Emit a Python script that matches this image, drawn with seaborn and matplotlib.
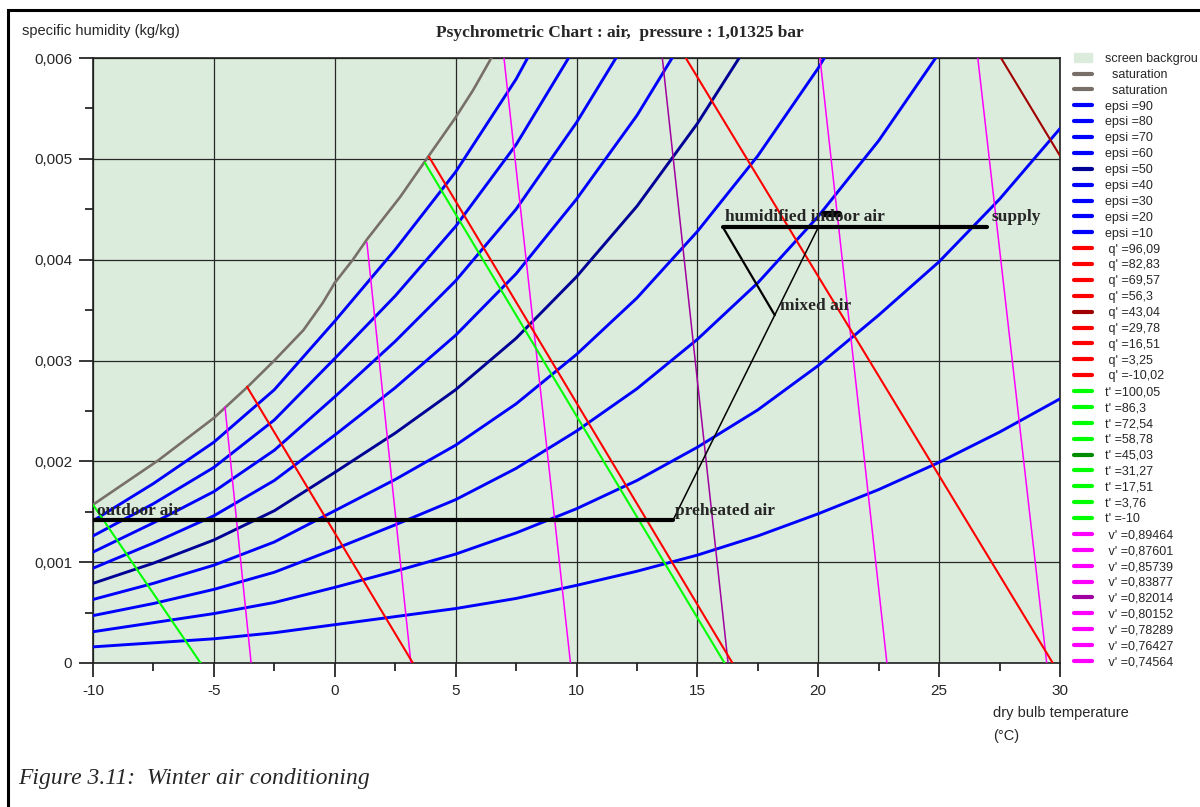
import pandas as pd
import matplotlib
matplotlib.use("Agg")
import matplotlib.pyplot as plt
from matplotlib.lines import Line2D
from matplotlib.patches import Patch, Rectangle
import seaborn as sns

# ---- values: dry bulb T (degC), specific humidity w (kg/kg) ----
SAT_ICE_T = [-10.0, -7.3, -5.0, -3.6, -2.5, -1.3, -0.5, 0.0]
SAT_ICE_W = [0.00157, 0.00201, 0.00243, 0.00274, 0.00300, 0.00330, 0.00357, 0.00377]
SAT_WATER_T = [0.0, 0.75, 1.33, 2.7, 3.86, 4.97, 5.72, 6.5]
SAT_WATER_W = [0.00377, 0.00400, 0.00420, 0.00462, 0.00502, 0.00540, 0.00568, 0.00601]

T_GRID = [-10, -7.5, -5, -2.5, 0, 2.5, 5, 7.5, 10, 12.5, 15, 17.5, 20, 22.5, 25, 27.5, 30]
epsi_90 = [0.00141, 0.00178, 0.00219, 0.00271, 0.00339, 0.00410, 0.00487, 0.00579, 0.00689]
epsi_80 = [0.00126, 0.00158, 0.00194, 0.00241, 0.00302, 0.00364, 0.00433, 0.00514, 0.00613]
epsi_70 = [0.00110, 0.00139, 0.00170, 0.00211, 0.00264, 0.00319, 0.00379, 0.00450, 0.00536, 0.00634]
epsi_60 = [0.00094, 0.00119, 0.00146, 0.00181, 0.00226, 0.00273, 0.00325, 0.00386, 0.00460, 0.00543,
           0.00641]
epsi_50 = [0.00079, 0.00099, 0.00122, 0.00151, 0.00189, 0.00228, 0.00271, 0.00322, 0.00383, 0.00453,
           0.00535, 0.00629]
epsi_40 = [0.00063, 0.00079, 0.00097, 0.00120, 0.00151, 0.00182, 0.00216, 0.00257, 0.00306, 0.00362,
           0.00428, 0.00503, 0.00590, 0.00691]
epsi_30 = [0.00047, 0.00059, 0.00073, 0.00090, 0.00113, 0.00137, 0.00162, 0.00193, 0.00230, 0.00272,
           0.00321, 0.00377, 0.00443, 0.00518, 0.00605]
epsi_20 = [0.00031, 0.00040, 0.00049, 0.00060, 0.00075, 0.00091, 0.00108, 0.00129, 0.00153, 0.00181,
           0.00214, 0.00251, 0.00295, 0.00345, 0.00398, 0.00460, 0.00530]
epsi_10 = [0.00016, 0.00020, 0.00024, 0.00030, 0.00038, 0.00046, 0.00054, 0.00064, 0.00077, 0.00091,
           0.00107, 0.00126, 0.00148, 0.00172, 0.00199, 0.00229, 0.00262]
EPSI_LABELS = ["epsi =90", "epsi =80", "epsi =70", "epsi =60", "epsi =50",
               "epsi =40", "epsi =30", "epsi =20", "epsi =10"]
EPSI_VALUES = [epsi_90, epsi_80, epsi_70, epsi_60, epsi_50, epsi_40, epsi_30, epsi_20, epsi_10]

Q_LABELS = [" q' =96,09", " q' =82,83", " q' =69,57", " q' =56,3", " q' =43,04",
            " q' =29,78", " q' =16,51", " q' =3,25", " q' =-10,02"]
Q_VISIBLE = [" q' =43,04", " q' =29,78", " q' =16,51", " q' =3,25"]
Q_T_ENDS = [[27.56, 30.0], [14.52, 29.7], [3.9, 16.45], [-3.63, 3.23]]
Q_W_ENDS = [[0.006, 0.00503], [0.006, 0.0], [0.00502, 0.0], [0.00274, 0.0]]

T_LABELS = ["t' =100,05", "t' =86,3", "t' =72,54", "t' =58,78", "t' =45,03",
            "t' =31,27", "t' =17,51", "t' =3,76", "t' =-10"]
T_VISIBLE = ["t' =3,76", "t' =-10"]
T_T_ENDS = [[3.73, 16.12], [-10.0, -5.55]]
T_W_ENDS = [[0.00496, 0.0], [0.00157, 0.0]]

V_LABELS = [" v' =0,89464", " v' =0,87601", " v' =0,85739", " v' =0,83877", " v' =0,82014",
            " v' =0,80152", " v' =0,78289", " v' =0,76427", " v' =0,74564"]
V_VISIBLE = [" v' =0,85739", " v' =0,83877", " v' =0,82014", " v' =0,80152", " v' =0,78289",
             " v' =0,76427"]
V_T_ENDS = [[26.6, 29.45], [20.07, 22.84], [13.55, 16.27], [7.0, 9.75], [1.33, 3.15], [-4.54, -3.46]]
V_W_ENDS = [[0.006, 0.0], [0.006, 0.0], [0.006, 0.0], [0.006, 0.0], [0.00417, 0.0], [0.00254, 0.0]]

# winter air conditioning process
HEAT_T = [-10.0, 14.0]
HEAT_W = [0.00142, 0.00142]
MIX_T = [14.0, 20.0]
MIX_W = [0.00142, 0.00432]
RETURN_T = [16.06, 18.2]
RETURN_W = [0.00432, 0.00345]
SUPPLY_T = [16.06, 26.98]
SUPPLY_W = [0.00432, 0.00432]
MARK_T = [20.25, 20.85]
MARK_W = [0.00445, 0.00445]

POINT_TEXT = ["outdoor air", "preheated air", "mixed air", "humidified indoor air", "supply"]
POINT_T = [-9.83, 14.07, 18.42, 16.14, 27.15]
POINT_W = [0.00147, 0.00147, 0.00350, 0.00438, 0.00438]

X_TICKS = [-10, -5, 0, 5, 10, 15, 20, 25, 30]
Y_TICKS = [0, 0.001, 0.002, 0.003, 0.004, 0.005, 0.006]
Y_TICK_LABELS = ["0", "0,001", "0,002", "0,003", "0,004", "0,005", "0,006"]

BG = "#dcecdc"
GREY = "#787068"
SANS = ["Liberation Sans", "DejaVu Sans"]
SERIF = ["Liberation Serif", "DejaVu Serif"]


def family_frame(labels, t_lists, w_lists):
    rows = []
    for lab, ts, ws in zip(labels, t_lists, w_lists):
        for t, w in zip(ts, ws):
            rows.append({"curve": lab, "T": t, "w": w})
    return pd.DataFrame(rows)


def colour_for(label):
    if label.startswith("epsi"):
        return "#000096" if label == "epsi =50" else "#0000ff"
    if "q'" in label:
        return "#a00000" if "43,04" in label else "#ff0000"
    if "t'" in label:
        return "#008c00" if "45,03" in label else "#00ff00"
    return "#a000a0" if "0,82014" in label else "#ff00ff"


def draw_family(ax, df, lw, z):
    pal = {lab: colour_for(lab) for lab in df["curve"].unique()}
    sns.lineplot(data=df, x="T", y="w", hue="curve", palette=pal, estimator=None, sort=False,
                 legend=False, linewidth=lw, ax=ax, zorder=z)


def main():
    sns.set_style("white")
    fig = plt.figure(figsize=(12, 8.07), dpi=100)
    ax = fig.add_axes([93 / 1200, 1 - 663 / 807, 967 / 1200, 605 / 807])
    ax.set_facecolor(BG)

    # saturation
    sat = family_frame(["sat ice", "sat water"], [SAT_ICE_T, SAT_WATER_T], [SAT_ICE_W, SAT_WATER_W])
    sns.lineplot(data=sat, x="T", y="w", units="curve", estimator=None, sort=False, color=GREY,
                 linewidth=1.9, ax=ax, zorder=3)

    epsi_t = [T_GRID[:len(v)] for v in EPSI_VALUES]
    draw_family(ax, family_frame(EPSI_LABELS, epsi_t, EPSI_VALUES), 2.1, 3)
    draw_family(ax, family_frame(V_VISIBLE, V_T_ENDS, V_W_ENDS), 1.1, 3)
    draw_family(ax, family_frame(T_VISIBLE, T_T_ENDS, T_W_ENDS), 1.5, 3)
    draw_family(ax, family_frame(Q_VISIBLE, Q_T_ENDS, Q_W_ENDS), 1.5, 3)

    # process lines
    sns.lineplot(x=HEAT_T, y=HEAT_W, color="black", linewidth=3.0, ax=ax, zorder=5)
    sns.lineplot(x=SUPPLY_T, y=SUPPLY_W, color="black", linewidth=3.0, ax=ax, zorder=5)
    sns.lineplot(x=MIX_T, y=MIX_W, color="black", linewidth=1.1, ax=ax, zorder=5)
    sns.lineplot(x=RETURN_T, y=RETURN_W, color="black", linewidth=1.6, ax=ax, zorder=5)
    sns.lineplot(x=MARK_T, y=MARK_W, color="black", linewidth=4.5, ax=ax, zorder=5)
    for txt, t, w in zip(POINT_TEXT, POINT_T, POINT_W):
        ax.text(t, w, txt, family=SERIF, fontweight="bold", fontsize=12.5, va="baseline",
                ha="left", zorder=6)

    ax.set_xlim(-10, 30)
    ax.set_ylim(0, 0.006)
    ax.set_xticks(X_TICKS)
    ax.set_xticklabels([str(x) for x in X_TICKS])
    ax.set_xticks([-7.5, -2.5, 2.5, 7.5, 12.5, 17.5, 22.5, 27.5], minor=True)
    ax.set_yticks(Y_TICKS)
    ax.set_yticklabels(Y_TICK_LABELS)
    ax.set_yticks([0.0005, 0.0015, 0.0025, 0.0035, 0.0045, 0.0055], minor=True)
    ax.tick_params(which="major", direction="out", length=10, width=1.1, color="black",
                   labelsize=11, pad=5)
    ax.tick_params(which="minor", direction="out", length=6, width=1.1, color="black")
    ax.tick_params(axis="x", which="both", bottom=True)
    ax.tick_params(axis="y", which="both", left=True)
    for lab in ax.get_xticklabels() + ax.get_yticklabels():
        lab.set_family(SANS)
    ax.grid(True, which="major", color="#282828", linewidth=0.9)
    ax.set_axisbelow(True)
    for sp in ax.spines.values():
        sp.set_color("#202020")
        sp.set_linewidth(1.2)
    ax.set_xlabel("")
    ax.set_ylabel("")

    # texts around the chart
    fig.text(620 / 1200, 1 - 37 / 807, "Psychrometric Chart : air,  pressure : 1,01325 bar",
             family=SERIF, fontweight="bold", fontsize=12.5, ha="center", va="baseline")
    fig.text(22 / 1200, 1 - 35 / 807, "specific humidity (kg/kg)", family=SANS, fontsize=10.5,
             va="baseline")
    fig.text(993 / 1200, 1 - 717 / 807, "dry bulb temperature", family=SANS, fontsize=10.5,
             va="baseline")
    fig.text(993 / 1200, 1 - 740 / 807, "(\u00b0C)", family=SANS, fontsize=10.5, va="baseline")
    fig.text(18 / 1200, 1 - 784 / 807, "Figure 3.11:  Winter air conditioning", family=SERIF,
             style="italic", fontsize=17, va="baseline")

    # frame around the whole figure
    fig.patches.append(Rectangle((7.5 / 1200, -0.5), 2.0, 1.5 - 10 / 807, transform=fig.transFigure,
                                 fill=False, edgecolor="black", linewidth=2.2))

    # legend
    handles = [Patch(facecolor=BG, edgecolor=BG, label="screen backgrou")]
    handles += [Line2D([], [], color=GREY, lw=3, label="  saturation") for _ in range(2)]
    for lab in EPSI_LABELS + Q_LABELS + T_LABELS + V_LABELS:
        handles.append(Line2D([], [], color=colour_for(lab), lw=3, label=lab))
    fig.legend(handles=handles, loc="upper left", bbox_to_anchor=(1074 / 1200, 1 - 53 / 807),
               frameon=False, prop={"family": SANS, "size": 9}, handlelength=1.45,
               handletextpad=1.0, labelspacing=0.31, borderpad=0, borderaxespad=0)

    fig.savefig("out.png", dpi=100, facecolor="white")


if __name__ == "__main__":
    main()
